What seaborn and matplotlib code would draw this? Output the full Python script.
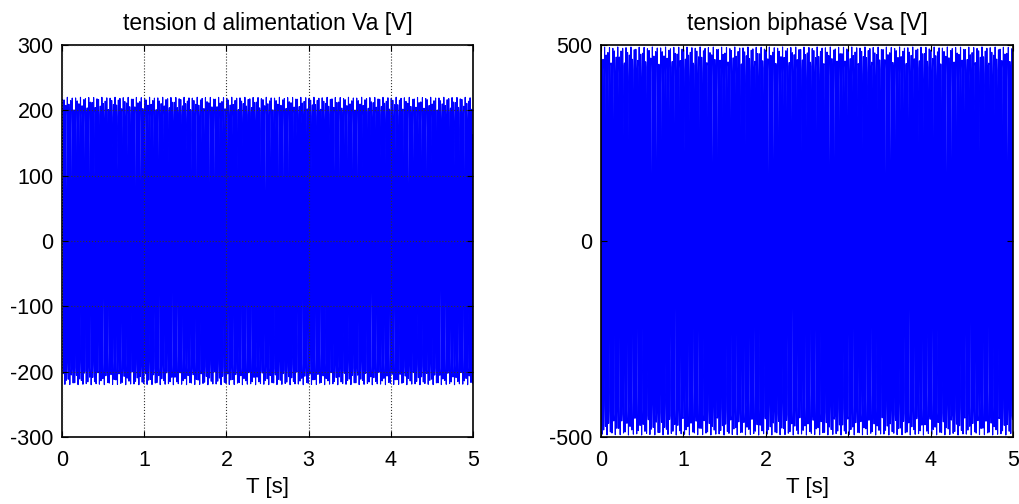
import numpy as np
import pandas as pd
import matplotlib
matplotlib.use("Agg")
import matplotlib.pyplot as plt
import seaborn as sns

# values
titles = ["tension d alimentation Va [V]", "tension biphasé Vsa [V]"]
xlabel = "T [s]"
t_end = 5.0            # s
freq = 50.0            # Hz (mains)
sample_step = 0.00271  # s, coarse solver step giving the uneven peaks
amp_va = 220.0         # V, peak of Va
amp_vsa = 495.0        # V, peak of Vsa
xticks = [0, 1, 2, 3, 4, 5]
yticks_left = [-300, -200, -100, 0, 100, 200, 300]
yticks_right = [-500, 0, 500]
ylim_left = (-300, 300)
ylim_right = (-500, 500)

t = np.arange(0, t_end + sample_step, sample_step)
df = pd.DataFrame({
    "t": t,
    "va": amp_va * np.sin(2 * np.pi * freq * t),
    "vsa": amp_vsa * np.sin(2 * np.pi * freq * t + 0.55),
})

sns.set_style("white")
plt.rcParams["font.family"] = ["Liberation Sans", "DejaVu Sans"]
plt.rcParams["axes.unicode_minus"] = False
plt.rcParams["text.color"] = "black"
plt.rcParams["axes.labelcolor"] = "black"
plt.rcParams["xtick.color"] = "black"
plt.rcParams["ytick.color"] = "black"

fig = plt.figure(figsize=(10.19, 5.04), dpi=100)
ax1 = fig.add_axes([62 / 1019, 1 - 437 / 504, 411 / 1019, 392 / 504])
ax2 = fig.add_axes([601 / 1019, 1 - 437 / 504, 412 / 1019, 392 / 504])

for ax, col, ttl, yt, yl, grid in [
    (ax1, "va", titles[0], yticks_left, ylim_left, True),
    (ax2, "vsa", titles[1], yticks_right, ylim_right, False),
]:
    sns.lineplot(data=df, x="t", y=col, ax=ax, color="#0000ff", linewidth=0.8,
                 estimator=None, sort=False)
    ax.set_xlim(0, t_end)
    ax.set_ylim(*yl)
    ax.set_xticks(xticks)
    ax.set_yticks(yt)
    ax.set_title(ttl, fontsize=16.5, pad=11, color="black")
    ax.set_xlabel(xlabel, fontsize=16, labelpad=5)
    ax.set_ylabel("")
    ax.tick_params(direction="in", length=4, width=0.8, labelsize=15.5,
                   top=True, right=True, bottom=True, left=True)
    ax.tick_params(axis="x", pad=9)
    ax.tick_params(axis="y", pad=6)
    for s in ax.spines.values():
        s.set_visible(True)
        s.set_color("black")
        s.set_linewidth(1.2)
    if grid:
        ax.grid(True, linestyle=":", color="#333333", linewidth=0.8)
    else:
        ax.grid(False)
    ax.set_axisbelow(False)

fig.savefig("out.png", dpi=100)
